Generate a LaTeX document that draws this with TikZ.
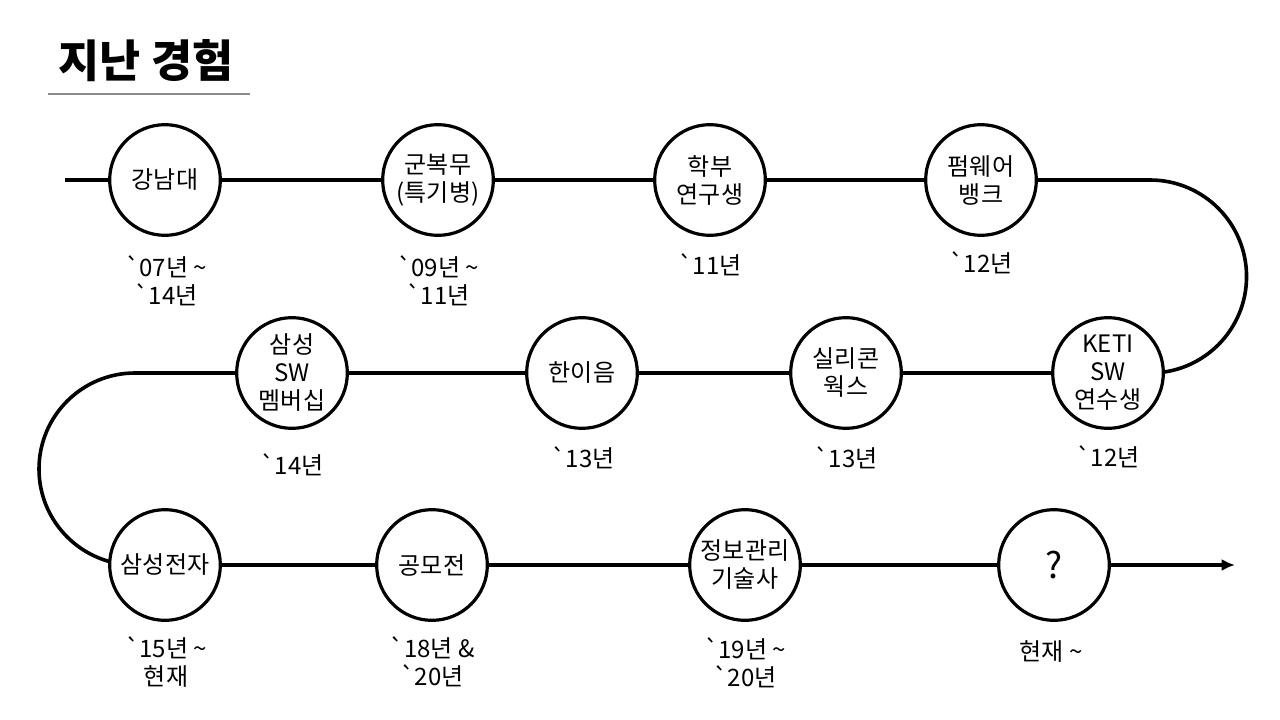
\documentclass[tikz,border=0pt]{standalone}
\usepackage{fontspec}
\newfontfamily\kr{Noto Sans CJK KR}
\usetikzlibrary{arrows.meta,backgrounds}
\begin{document}
\begin{tikzpicture}[x=0.75pt,y=-0.75pt,
  stage/.style={circle,draw=black,line width=2.4pt,fill=white,minimum size=83pt,inner sep=0pt,align=center,font=\kr\fontsize{18}{21}\selectfont},
  datelbl/.style={align=center,inner sep=0pt,font=\kr\fontsize{18}{21}\selectfont},
  track/.style={line width=2.7pt,line join=round,draw=black}]
\useasboundingbox (0,0) rectangle (1280,720);
% title
\node[font=\kr\bfseries\fontsize{33.5}{40}\selectfont,inner sep=0pt] (title) at (146,61) {지난 경험};
\coordinate (ul1) at (48,94);
\coordinate (ul2) at (250,94);
\draw[black!45,line width=0.8pt] (ul1) -- (ul2);
% stages
\node[stage] (c1) at (165,180) {강남대};
\node[stage] (c2) at (438,180) {군복무\\(특기병)};
\node[stage] (c3) at (710,180) {학부\\연구생};
\node[stage] (c4) at (981,180) {펌웨어\\뱅크};
\node[stage] (c5) at (1108,373) {KETI\\SW\\연수생};
\node[stage] (c6) at (846,373) {실리콘\\웍스};
\node[stage] (c7) at (582,373) {한이음};
\node[stage] (c8) at (292,373) {삼성\\SW\\멤버십};
\node[stage] (c9) at (165,565) {삼성전자};
\node[stage] (c10) at (432,565) {공모전};
\node[stage] (c11) at (745,565) {정보관리\\기술사};
\node[stage,font=\kr\fontsize{27}{30}\selectfont] (c12) at (1054,565) {?};
% dates
\node[datelbl] (d1) at (166,281) {`07년 \textasciitilde\\`14년};
\node[datelbl] (d2) at (438,281) {`09년 \textasciitilde\\`11년};
\node[datelbl] (d3) at (710,265) {`11년};
\node[datelbl] (d4) at (981,263) {`12년};
\node[datelbl] (d5) at (1108,457) {`12년};
\node[datelbl] (d6) at (846,458) {`13년};
\node[datelbl] (d7) at (583,458) {`13년};
\node[datelbl] (d8) at (292,465) {`14년};
\node[datelbl] (d9) at (166,662) {`15년 \textasciitilde\\현재};
\node[datelbl] (d10) at (432,662) {`18년 \&\\`20년};
\node[datelbl] (d11) at (745,663) {`19년 \textasciitilde\\`20년};
\node[datelbl] (d12) at (1051,652) {현재 \textasciitilde};
% track
\coordinate (s) at (65,180);
\coordinate (r1) at (1150,180);
\coordinate (l1) at (135,373);
\coordinate (e) at (1235,565);
\begin{pgfonlayer}{background}
\fill[white] (0,0) rectangle (1280,720);
\draw[track] (s) -- (c1.center) -- (c2.center) -- (c3.center) -- (c4.center) -- (r1)
  arc[start angle=90,end angle=-90,radius=72.4pt] -- (c5.center) -- (c6.center) -- (c7.center) -- (c8.center) -- (l1)
  arc[start angle=90,end angle=270,radius=72pt] -- (c9.center) -- (c10.center) -- (c11.center) -- (c12.center);
\draw[track,-{Latex[length=10pt,width=9pt]}] (c12.center) -- (e);
\end{pgfonlayer}
\end{tikzpicture}
\end{document}
